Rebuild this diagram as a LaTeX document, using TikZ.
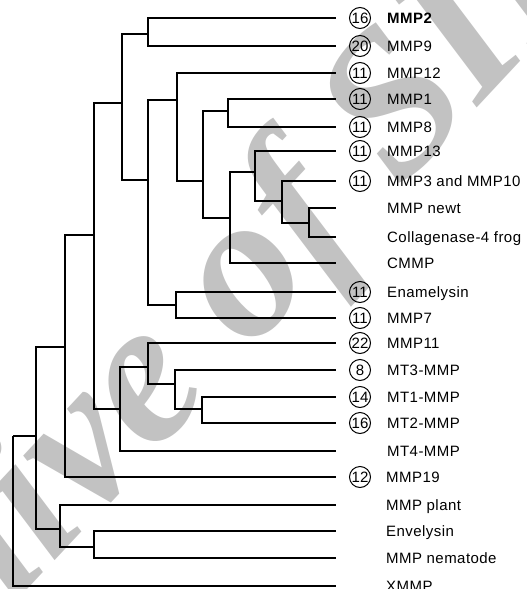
\documentclass[tikz,border=0pt]{standalone}
\usepackage{fontspec}
\setmainfont{Liberation Sans}
\newfontfamily\labelfont{Liberation Sans}[LetterSpace=3]
\newfontfamily\stampfont{Liberation Serif}
\usetikzlibrary{positioning}

\begin{document}
\begin{tikzpicture}[
  x = 1pt, y = -1pt,
  branch/.style = {line width=1.5pt, line join=miter},
  leaf/.style = {anchor=west, inner sep=0pt, text height=10.7pt, text depth=0pt,
                 font=\labelfont\fontsize{15}{15}\selectfont},
  count/.style = {draw, circle, line width=1pt, minimum size=21pt, inner sep=0pt,
                  font=\fontsize{15}{15}\selectfont},
  stamp/.style = {text=black!24, rotate=47,
                  font=\stampfont\bfseries\itshape\fontsize{205}{205}\selectfont}
]

\useasboundingbox (0,0) rectangle (527,589);
\clip (0,0) rectangle (527,589);

% watermark behind the tree
\node[stamp] (wm) at (162,372) {Archive of SID};

% leaf ends
\coordinate (mmp2)  at (336,18);   \coordinate (mmp9)  at (336,46);
\coordinate (mmp12) at (336,73);   \coordinate (mmp1)  at (336,99);
\coordinate (mmp8)  at (336,127);  \coordinate (mmp13) at (336,151);
\coordinate (mmp3)  at (336,181);  \coordinate (newt)  at (336,208);
\coordinate (frog)  at (336,237);  \coordinate (cmmp)  at (336,263);
\coordinate (enam)  at (336,292);  \coordinate (mmp7)  at (336,318);
\coordinate (mmp11) at (336,343);  \coordinate (mt3)   at (336,370);
\coordinate (mt1)   at (336,397);  \coordinate (mt2)   at (336,423);
\coordinate (mt4)   at (336,451);  \coordinate (mmp19) at (336,477);
\coordinate (plant) at (336,505);  \coordinate (envel) at (336,531);
\coordinate (nema)  at (336,558);  \coordinate (xmmp)  at (336,586);

% inner nodes (x of the split, y where the parent joins)
\coordinate (root) at (13,436);
\coordinate (p) at (36,436);   \coordinate (q) at (65,347);
\coordinate (r) at (60,529);   \coordinate (t) at (94,547);
\coordinate (s) at (94,235);   \coordinate (u) at (122,103);
\coordinate (a) at (148,34);   \coordinate (b) at (148,180);
\coordinate (c) at (177,100);  \coordinate (d) at (203,181);
\coordinate (e) at (228,111);  \coordinate (f) at (230,218);
\coordinate (g) at (255,172);  \coordinate (h) at (282,201);
\coordinate (i) at (309,223);  \coordinate (j) at (176,305);
\coordinate (k) at (120,409);  \coordinate (l) at (148,367);
\coordinate (m) at (175,384);  \coordinate (n) at (202,409);

% names
\node[leaf, font=\labelfont\bfseries\fontsize{15}{15}\selectfont] (mmp2 t) [right=51pt of mmp2] {MMP2};
\node[leaf] (mmp9 t)  [right=51pt of mmp9]  {MMP9};
\node[leaf] (mmp12 t) [right=51pt of mmp12] {MMP12};
\node[leaf] (mmp1 t)  [right=51pt of mmp1]  {MMP1};
\node[leaf] (mmp8 t)  [right=51pt of mmp8]  {MMP8};
\node[leaf] (mmp13 t) [right=51pt of mmp13] {MMP13};
\node[leaf] (mmp3 t)  [right=51pt of mmp3]  {MMP3 and MMP10};
\node[leaf] (newt t)  [right=51pt of newt]  {MMP newt};
\node[leaf] (frog t)  [right=51pt of frog]  {Collagenase-4 frog};
\node[leaf] (cmmp t)  [right=51pt of cmmp]  {CMMP};
\node[leaf] (enam t)  [right=51pt of enam]  {Enamelysin};
\node[leaf] (mmp7 t)  [right=51pt of mmp7]  {MMP7};
\node[leaf] (mmp11 t) [right=51pt of mmp11] {MMP11};
\node[leaf] (mt3 t)   [right=51pt of mt3]   {MT3-MMP};
\node[leaf] (mt1 t)   [right=51pt of mt1]   {MT1-MMP};
\node[leaf] (mt2 t)   [right=51pt of mt2]   {MT2-MMP};
\node[leaf] (mt4 t)   [right=51pt of mt4]   {MT4-MMP};
\node[leaf] (mmp19 t) [right=50pt of mmp19] {MMP19};
\node[leaf] (plant t) [right=50pt of plant] {MMP plant};
\node[leaf] (envel t) [right=50pt of envel] {Envelysin};
\node[leaf] (nema t)  [right=50pt of nema]  {MMP nematode};
\node[leaf] (xmmp t)  [right=50pt of xmmp]  {XMMP};

% circled counts
\node[count] (mmp2 c)  [right=13pt of mmp2]  {16};
\node[count] (mmp9 c)  [right=13pt of mmp9]  {20};
\node[count] (mmp12 c) [right=13pt of mmp12] {11};
\node[count] (mmp1 c)  [right=13pt of mmp1]  {11};
\node[count] (mmp8 c)  [right=13pt of mmp8]  {11};
\node[count] (mmp13 c) [right=13pt of mmp13] {11};
\node[count] (mmp3 c)  [right=13pt of mmp3]  {11};
\node[count] (enam c)  [right=13pt of enam]  {11};
\node[count] (mmp7 c)  [right=13pt of mmp7]  {11};
\node[count] (mmp11 c) [right=13pt of mmp11] {22};
\node[count] (mt3 c)   [right=13pt of mt3]   {8};
\node[count] (mt1 c)   [right=13pt of mt1]   {14};
\node[count] (mt2 c)   [right=13pt of mt2]   {16};
\node[count] (mmp19 c) [right=13pt of mmp19] {12};

% branches
\draw[branch] (root) |- (p)     (root) |- (xmmp);
\draw[branch] (p) |- (q)        (p) |- (r);
\draw[branch] (q) |- (s)        (q) |- (mmp19);
\draw[branch] (r) |- (plant)    (r) |- (t);
\draw[branch] (t) |- (envel)    (t) |- (nema);
\draw[branch] (s) |- (u)        (s) |- (k);
\draw[branch] (u) |- (a)        (u) |- (b);
\draw[branch] (a) |- (mmp2)     (a) |- (mmp9);
\draw[branch] (b) |- (c)        (b) |- (j);
\draw[branch] (c) |- (mmp12)    (c) |- (d);
\draw[branch] (d) |- (e)        (d) |- (f);
\draw[branch] (e) |- (mmp1)     (e) |- (mmp8);
\draw[branch] (f) |- (g)        (f) |- (cmmp);
\draw[branch] (g) |- (mmp13)    (g) |- (h);
\draw[branch] (h) |- (mmp3)     (h) |- (i);
\draw[branch] (i) |- (newt)     (i) |- (frog);
\draw[branch] (j) |- (enam)     (j) |- (mmp7);
\draw[branch] (k) |- (l)        (k) |- (mt4);
\draw[branch] (l) |- (mmp11)    (l) |- (m);
\draw[branch] (m) |- (mt3)      (m) |- (n);
\draw[branch] (n) |- (mt1)      (n) |- (mt2);

\end{tikzpicture}
\end{document}
